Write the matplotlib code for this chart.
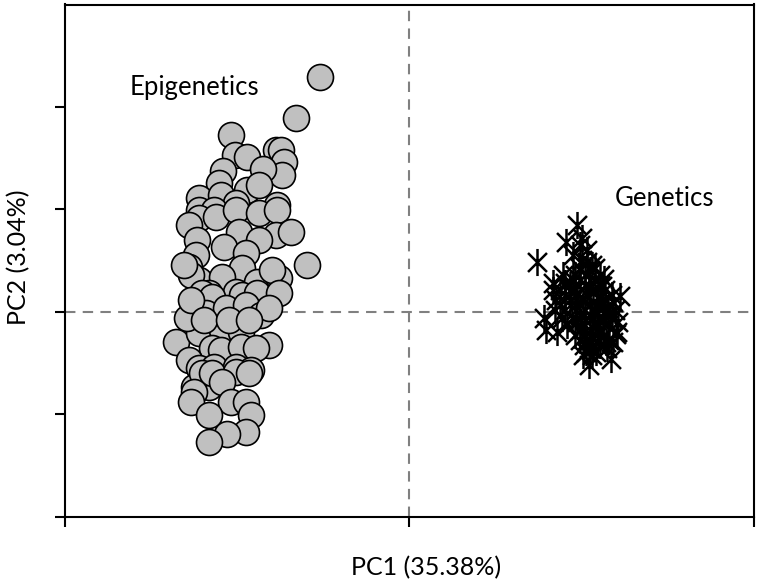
import matplotlib
matplotlib.use("Agg")
import matplotlib.pyplot as plt
from matplotlib.path import Path

plt.rcParams['font.family'] = ['Lato', 'DejaVu Sans']

# PCA scores (PC1, PC2)
epi_pc1 = [-0.259, -0.328, -0.517, -0.506, -0.471, -0.387, -0.372, -0.363, -0.369, -0.541,
           -0.424, -0.552, -0.471, -0.436, -0.610, -0.547, -0.503, -0.384, -0.610, -0.567,
           -0.610, -0.561, -0.503, -0.436, -0.384, -0.640, -0.494, -0.387, -0.343, -0.436,
           -0.616, -0.538, -0.619, -0.474, -0.297, -0.640, -0.485, -0.610, -0.544, -0.442,
           -0.378, -0.398, -0.634, -0.581, -0.503, -0.602, -0.573, -0.485, -0.442, -0.378,
           -0.590, -0.532, -0.474, -0.430, -0.407, -0.677, -0.610, -0.544, -0.488, -0.573,
           -0.547, -0.488, -0.407, -0.445, -0.640, -0.610, -0.567, -0.503, -0.459, -0.625,
           -0.581, -0.602, -0.573, -0.503, -0.465, -0.625, -0.634, -0.544, -0.517, -0.474,
           -0.581, -0.459, -0.474, -0.529, -0.581, -0.645, -0.654, -0.634, -0.596, -0.523,
           -0.465]
epi_pc2 = [2.290, 1.891, 1.725, 1.530, 1.511, 1.579, 1.579, 1.462, 1.335, 1.374,
           1.394, 1.257, 1.189, 1.238, 1.111, 1.140, 1.062, 1.043, 0.994, 0.994,
           0.916, 0.926, 0.994, 0.965, 0.994, 0.848, 0.780, 0.750, 0.780, 0.702,
           0.702, 0.634, 0.556, 0.575, 0.458, 0.439, 0.429, 0.312, 0.341, 0.292,
           0.331, 0.409, 0.361, 0.185, 0.195, 0.185, 0.146, 0.166, 0.185, 0.185,
           -0.010, 0.039, 0.068, -0.029, 0.039, -0.292, -0.205, -0.175, -0.195, -0.351,
           -0.370, -0.341, -0.322, -0.351, -0.468, -0.546, -0.536, -0.536, -0.565, -0.731,
           -0.731, -0.595, -0.595, -0.585, -0.595, -0.780, -0.877, -0.682, -0.877, -0.877,
           -1.004, -1.004, -1.170, -1.199, -1.277, -0.058, 0.458, 0.117, -0.078, -0.078,
           -0.078]

gen_pc1 = [0.488, 0.456, 0.500, 0.494, 0.372, 0.416, 0.445, 0.416, 0.392, 0.398,
           0.430, 0.520, 0.573, 0.602, 0.581, 0.590, 0.474, 0.424,
           0.465, 0.480, 0.494, 0.509, 0.523, 0.538, 0.552, 0.567, 0.552, 0.538,
           0.509, 0.488, 0.503, 0.517, 0.532, 0.547, 0.561, 0.576, 0.523, 0.509,
           0.494, 0.480, 0.465, 0.451, 0.471, 0.488, 0.509, 0.529, 0.547, 0.561,
           0.576, 0.552, 0.538, 0.523, 0.509, 0.494, 0.517, 0.532, 0.547, 0.561,
           0.523, 0.541, 0.506, 0.494, 0.480, 0.459, 0.442, 0.436, 0.451, 0.474,
           0.515, 0.529, 0.494, 0.480, 0.544, 0.587, 0.567, 0.529, 0.512, 0.500,
           0.535, 0.520, 0.483, 0.468, 0.453, 0.436, 0.427, 0.587, 0.596, 0.578,
           0.552, 0.503, 0.547, 0.564, 0.500, 0.517,
           0.606, 0.610, 0.599, 0.592, 0.585, 0.570, 0.558, 0.545]
gen_pc2 = [0.848, 0.682, 0.721, 0.653, 0.487, 0.283, 0.361, 0.214, -0.058, -0.175,
           -0.195, -0.517, -0.351, -0.195, -0.029, 0.097, 0.556, 0.019,
           0.263, 0.214, 0.312, 0.361, 0.409, 0.312, 0.263, 0.214, 0.361, 0.429,
           0.263, 0.166, 0.117, 0.166, 0.214, 0.136, 0.088, 0.039, 0.068, 0.019,
           -0.029, 0.068, 0.117, 0.019, -0.058, -0.097, -0.078, -0.058, -0.010, -0.078,
           -0.127, -0.175, -0.127, -0.175, -0.224, -0.175, -0.273, -0.253, -0.292, -0.234,
           -0.351, -0.390, -0.322, -0.273, -0.224, -0.127, -0.058, 0.068, 0.166, 0.312,
           0.487, 0.458, 0.429, 0.361, 0.068, -0.058, 0.000, -0.419, -0.390, -0.156,
           0.000, 0.234, 0.019, 0.195, 0.283, 0.214, 0.117, 0.166, 0.019, -0.273,
           -0.322, -0.419, 0.234, 0.322, 0.507, 0.604,
           -0.100, 0.150, -0.220, -0.300, -0.460, -0.300, 0.250, 0.050]

x_ticks = [-1, 0, 1]
y_ticks = [-2, -1, 0, 1, 2]
x_label = "PC1 (35.38%)"
y_label = "PC2 (3.04%)"

# asterisk-like marker: X with a vertical stroke
star_x = Path([(-0.42, -0.42), (0.42, 0.42), (-0.42, 0.42), (0.42, -0.42), (0, -0.6), (0, 0.6)],
              [Path.MOVETO, Path.LINETO, Path.MOVETO, Path.LINETO, Path.MOVETO, Path.LINETO])

W, H = 760, 584
fig = plt.figure(figsize=(W / 100, H / 100), dpi=100)
ax = fig.add_axes([64.5 / W, (H - 516.5) / H, (754 - 64.5) / W, (516.5 - 4.5) / H])

ax.axvline(0, color='#808080', lw=1.5, ls=(0, (5, 3.5)), zorder=1)
ax.axhline(0, color='#808080', lw=1.5, ls=(0, (5, 3.5)), zorder=1)

ax.scatter(epi_pc1, epi_pc2, s=350, facecolor='#c0c0c0', edgecolor='black', linewidth=1.2, zorder=3)
ax.scatter(gen_pc1, gen_pc2, s=380, marker=star_x, color='black', linewidth=1.8, zorder=3)

ax.text(-0.81, 2.19, "Epigenetics", fontsize=18.5, ha='left', va='center')
ax.text(0.595, 1.11, "Genetics", fontsize=18.5, ha='left', va='center')

ax.set_xlim(-1, 1)
ax.set_ylim(-2, 3)
ax.set_xticks(x_ticks)
ax.set_yticks(y_ticks)
ax.set_xticklabels([])
ax.set_yticklabels([])
ax.tick_params(direction='out', length=7, width=1.5)
for sp in ax.spines.values():
    sp.set_linewidth(1.5)

fig.text(426 / W, 1 - 568 / H, x_label, fontsize=18, ha='center', va='center')
fig.text(19 / W, 1 - 257 / H, y_label, fontsize=18, ha='center', va='center', rotation=90)

fig.savefig("out.png", dpi=100)
